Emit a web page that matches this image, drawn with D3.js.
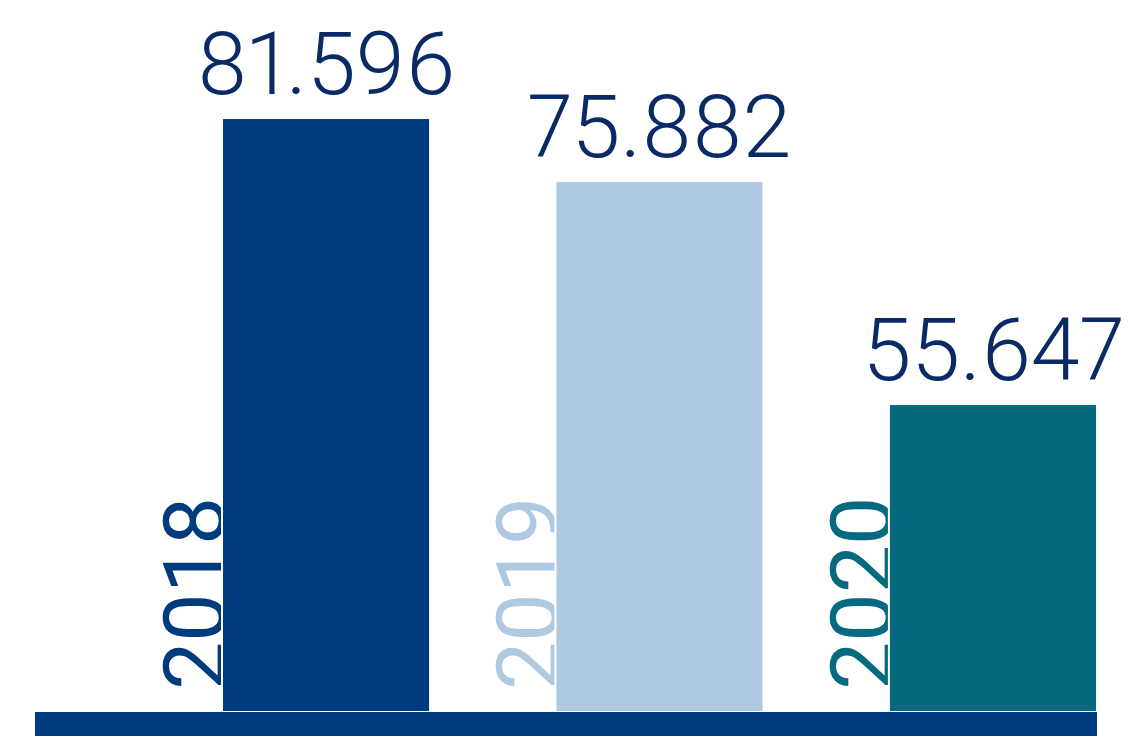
<!DOCTYPE html>
<html>
<head>
<meta charset="utf-8">
<script src="https://cdn.jsdelivr.net/npm/d3@7"></script>
<style>
  html, body { margin: 0; padding: 0; background: #fff; }
  svg { display: block; }
</style>
</head>
<body>
<svg id="chart" width="1134" height="736"></svg>
<script>
// chart data
const years = ["2018", "2019", "2020"];
const values = [81.596, 75.882, 55.647];
const valueLabels = ["81.596", "75.882", "55.647"];
const colors = ["#003c7d", "#afc9e0", "#05697f"];

const svg = d3.select("#chart");
const width = +svg.attr("width");
const height = +svg.attr("height");

const baseY = 712;

// bars sit on a band that starts at x=35
const x = d3.scaleBand()
    .domain(years)
    .range([222, 1097])
    .paddingInner(0.376)
    .paddingOuter(0);

// value axis does not start at zero in the original
const y = d3.scaleLinear()
    .domain([27.7, 81.6])
    .range([baseY, 118]);

const rows = years.map((yr, i) => ({ year: yr, value: values[i], label: valueLabels[i], color: colors[i] }));

// year labels first, the bars cover part of them
svg.selectAll(".year")
    .data(rows)
    .enter()
    .append("text")
    .attr("class", "year")
    .attr("transform", d => `translate(${x(d.year) + 2},690) rotate(-90)`)
    .attr("text-anchor", "start")
    .attr("font-family", "Roboto, sans-serif")
    .attr("font-weight", 400)
    .attr("font-size", 86)
    .attr("fill", d => d.color)
    .text(d => d.year);

svg.selectAll(".bar")
    .data(rows)
    .enter()
    .append("rect")
    .attr("class", "bar")
    .attr("x", d => x(d.year))
    .attr("y", d => y(d.value))
    .attr("width", x.bandwidth())
    .attr("height", d => baseY - y(d.value))
    .attr("fill", d => d.color)
    .attr("stroke", "#fff")
    .attr("stroke-width", 2);

svg.selectAll(".value")
    .data(rows)
    .enter()
    .append("text")
    .attr("class", "value")
    .attr("x", d => x(d.year) + x.bandwidth() / 2)
    .attr("y", d => y(d.value) - 24)
    .attr("text-anchor", "middle")
    .attr("font-family", "Roboto, sans-serif")
    .attr("font-weight", 300)
    .attr("font-size", 88)
    .style("font-variant-numeric", "proportional-nums")
    .attr("fill", "#0a2a66")
    .text(d => d.label);

// base band
svg.append("rect")
    .attr("x", 35)
    .attr("y", baseY)
    .attr("width", x.range()[1] - 35)
    .attr("height", height - baseY)
    .attr("fill", colors[0]);
</script>
</body>
</html>
